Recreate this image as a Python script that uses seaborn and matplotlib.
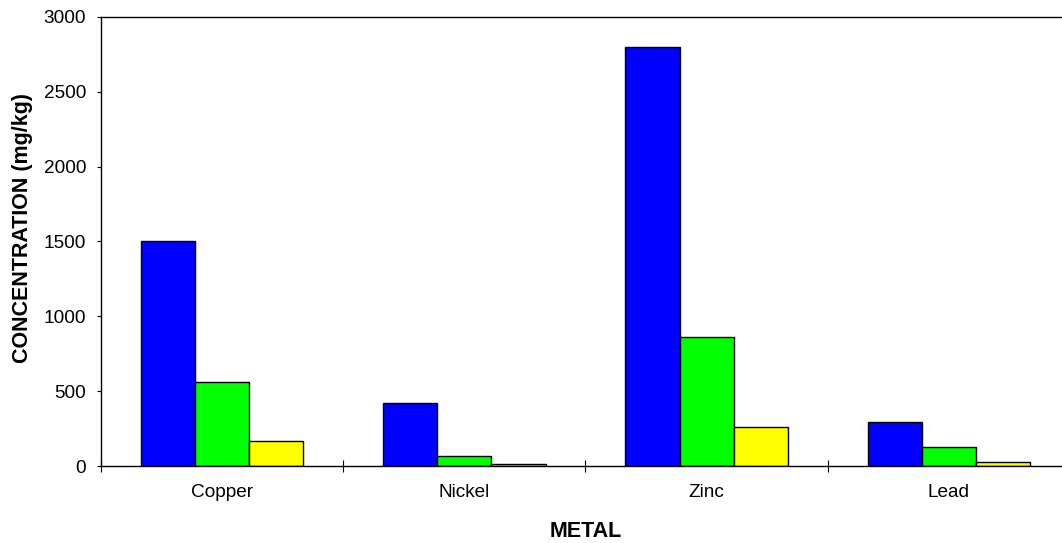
import pandas as pd
import matplotlib.pyplot as plt
import seaborn as sns

# values (mg/kg)
metals = ['Copper', 'Nickel', 'Zinc', 'Lead']
series_names = ['Series 1', 'Series 2', 'Series 3']
series_1 = [1500, 420, 2800, 295]
series_2 = [560, 65, 865, 125]
series_3 = [165, 12, 260, 28]
colors = ['#0000FF', '#00FF00', '#FFFF00']


def main():
    sns.set_theme(style='white')
    plt.rcParams['font.family'] = ['Liberation Sans', 'DejaVu Sans']

    rows = []
    for name, vals in zip(series_names, [series_1, series_2, series_3]):
        for m, v in zip(metals, vals):
            rows.append({'metal': m, 'conc': v, 'series': name})
    df = pd.DataFrame(rows)

    fig = plt.figure(figsize=(10.62, 5.43), dpi=100)
    ax = fig.add_axes([0.0951, 0.1418, 0.9124, 0.8269])

    sns.barplot(data=df, x='metal', y='conc', hue='series', order=metals,
                hue_order=series_names, palette=colors, width=0.67,
                edgecolor='black', linewidth=1.0, saturation=1,
                legend=False, ax=ax)

    ax.set_xlim(-0.5, 3.5)
    ax.set_ylim(0, 3000)
    ax.set_yticks(range(0, 3001, 500))

    # category labels at centres, tick marks at group boundaries
    ax.set_xticks([-0.5, 0.5, 1.5, 2.5], minor=True)
    ax.tick_params(axis='x', which='major', length=0, pad=13, labelsize=13.7,
                   colors='black')
    ax.tick_params(axis='x', which='minor', direction='inout', length=8.6,
                   width=0.8, color='black', bottom=True)
    ax.tick_params(axis='y', which='major', direction='out', length=3.2,
                   width=0.8, pad=7.5, labelsize=13.7, colors='black', left=True)

    for side in ['left', 'top', 'bottom']:
        ax.spines[side].set_visible(True)
        ax.spines[side].set_color('black')
        ax.spines[side].set_linewidth(1.0)
    ax.spines['right'].set_visible(False)

    ax.set_xlabel('METAL', fontsize=15.5, fontweight='bold', color='black')
    ax.set_ylabel('CONCENTRATION (mg/kg)', fontsize=15.5, fontweight='bold',
                  color='black')
    ax.xaxis.set_label_coords(0.5, -0.122)
    ax.yaxis.set_label_coords(-0.070, 0.53)

    fig.savefig('out.png', dpi=100)


if __name__ == "__main__":
    main()
